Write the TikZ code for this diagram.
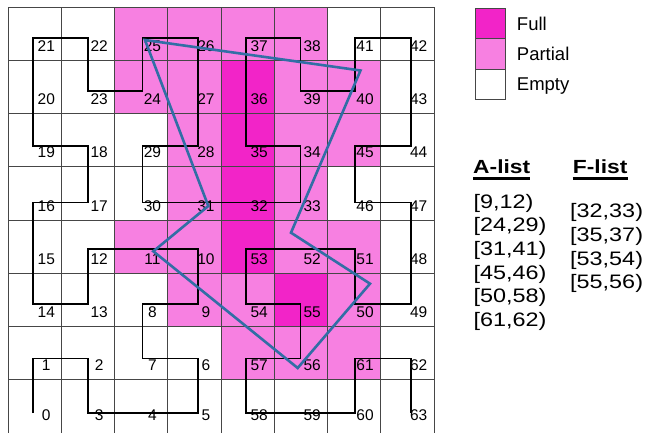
\documentclass[tikz,border=0pt]{standalone}
\usepackage{fontspec}
\setmainfont{Liberation Sans}
\newfontfamily\listfont[FakeStretch=1.2]{Liberation Sans}
\usetikzlibrary{positioning}
\definecolor{fullpink}{RGB}{242,36,200}
\definecolor{partpink}{RGB}{247,128,225}
\definecolor{gridgray}{RGB}{70,70,70}
\definecolor{hullblue}{RGB}{50,110,165}

% curve corners and label centres, per column / per row
\def\curvex{{33,88,142.5,198,246,300.5,355,410.7}}
\def\curvey{{413,358.5,304,249,202.5,145.7,91,37.7}}
\def\labx{{46.3,99.2,152.5,206,259.2,312.2,365,418.7}}
\def\laby{{414.8,365,312.5,259,206,152.5,99,46}}

\begin{document}
\begin{tikzpicture}[x=1pt,y=-1pt,
  every node/.style={inner sep=0pt},
  cellfull/.style={fill=fullpink},
  cellpart/.style={fill=partpink},
  gridrule/.style={draw=gridgray,line width=0.9pt},
  idlabel/.style={font=\fontsize{15.5}{18}\selectfont},
  hilbert/.style={draw=black,line width=1.8pt,line join=miter},
  hull/.style={draw=hullblue,line width=2.6pt},
  keybox/.style={draw=gridgray,line width=0.9pt,minimum size=30.5pt,outer sep=0pt},
  keytext/.style={font=\fontsize{18.5}{22}\selectfont,text depth=0pt,anchor=west},
  listhead/.style={font=\listfont\bfseries\fontsize{19}{23}\selectfont,anchor=base west},
  listitem/.style={font=\listfont\fontsize{19.5}{23.6}\selectfont,anchor=base west},
  headrule/.style={draw=black,line width=2.8pt}]
  \useasboundingbox (0,0) rectangle (646,432);

  % shaded cells
  \foreach \c/\r in {4/3,4/4,4/5,4/6,5/2}
    \fill[cellfull] ({8+53.25*\c},{433-53.25*(\r+1)}) rectangle ++(53.25,53.25);
  \foreach \c/\r in {3/2,3/3,2/3,2/6,2/7,3/7,3/6,3/5,3/4,5/4,5/5,4/7,5/7,5/6,6/6,6/5,6/2,6/3,5/3,4/2,5/1,4/1,6/1}
    \fill[cellpart] ({8+53.25*\c},{433-53.25*(\r+1)}) rectangle ++(53.25,53.25);

  % grid
  \foreach \k in {0,...,8} {
    \draw[gridrule] ({8+53.25*\k},7) -- ({8+53.25*\k},433);
    \draw[gridrule] (8,{7+53.25*\k}) -- (434,{7+53.25*\k});
  }

  % cells in curve order
  \foreach \i/\c/\r in {0/0/0,1/0/1,2/1/1,3/1/0,4/2/0,5/3/0,6/3/1,7/2/1,
      8/2/2,9/3/2,10/3/3,11/2/3,12/1/3,13/1/2,14/0/2,15/0/3,
      16/0/4,17/1/4,18/1/5,19/0/5,20/0/6,21/0/7,22/1/7,23/1/6,
      24/2/6,25/2/7,26/3/7,27/3/6,28/3/5,29/2/5,30/2/4,31/3/4,
      32/4/4,33/5/4,34/5/5,35/4/5,36/4/6,37/4/7,38/5/7,39/5/6,
      40/6/6,41/6/7,42/7/7,43/7/6,44/7/5,45/6/5,46/6/4,47/7/4,
      48/7/3,49/7/2,50/6/2,51/6/3,52/5/3,53/4/3,54/4/2,55/5/2,
      56/5/1,57/4/1,58/4/0,59/5/0,60/6/0,61/6/1,62/7/1,63/7/0} {
    \pgfmathsetmacro\px{\curvex[\c]}
    \pgfmathsetmacro\py{\curvey[\r]}
    \pgfmathsetmacro\lx{\labx[\c]}
    \pgfmathsetmacro\ly{\laby[\r]}
    \coordinate (p\i) at (\px,\py);
    \node[idlabel] (n\i) at (\lx,\ly) {\i};
  }
  \draw[hilbert] (p0) \foreach \i in {1,...,63} {-- (p\i)};

  % query polygon
  \coordinate (h25) at (145,40);
  \coordinate (h40) at (360.5,70.5);
  \coordinate (h33) at (291,232.7);
  \coordinate (h50) at (370,283.7);
  \coordinate (h56) at (297.7,368);
  \coordinate (h11) at (153.3,251.3);
  \coordinate (h31) at (208.3,206);
  \draw[hull] (h25) -- (h40) -- (h33) -- (h50) -- (h56) -- (h11) -- (h31) -- cycle;

  % legend
  \node[keybox,fill=fullpink] (keyfull) at (490.5,23.3) {};
  \node[keybox,fill=partpink,below=0pt of keyfull] (keypart) {};
  \node[keybox,fill=white,below=0pt of keypart] (keyempty) {};
  \node[keytext,right=11pt of keyfull] (txtfull) {Full};
  \node[keytext,right=11pt of keypart] (txtpart) {Partial};
  \node[keytext,right=11pt of keyempty] (txtempty) {Empty};

  % range lists
  \node[listhead] (ahead) at (473,173.3) {A-list};
  \node[listhead] (fhead) at (572.7,173.3) {F-list};
  \draw[headrule] ([yshift=-5pt]ahead.base west) -- ([yshift=-5pt]ahead.base east);
  \draw[headrule] ([yshift=-5pt]fhead.base west) -- ([yshift=-5pt]fhead.base east);
  \foreach \lo/\hi [count=\k from 0] in {9/12,24/29,31/41,45/46,50/58,61/62}
    \node[listitem] (arange\k) at (473.3,{208.3+23.6*\k}) {[\lo,\hi)};
  \foreach \lo/\hi [count=\k from 0] in {32/33,35/37,53/54,55/56}
    \node[listitem] (frange\k) at (570,{217.7+23.7*\k}) {[\lo,\hi)};
\end{tikzpicture}
\end{document}
